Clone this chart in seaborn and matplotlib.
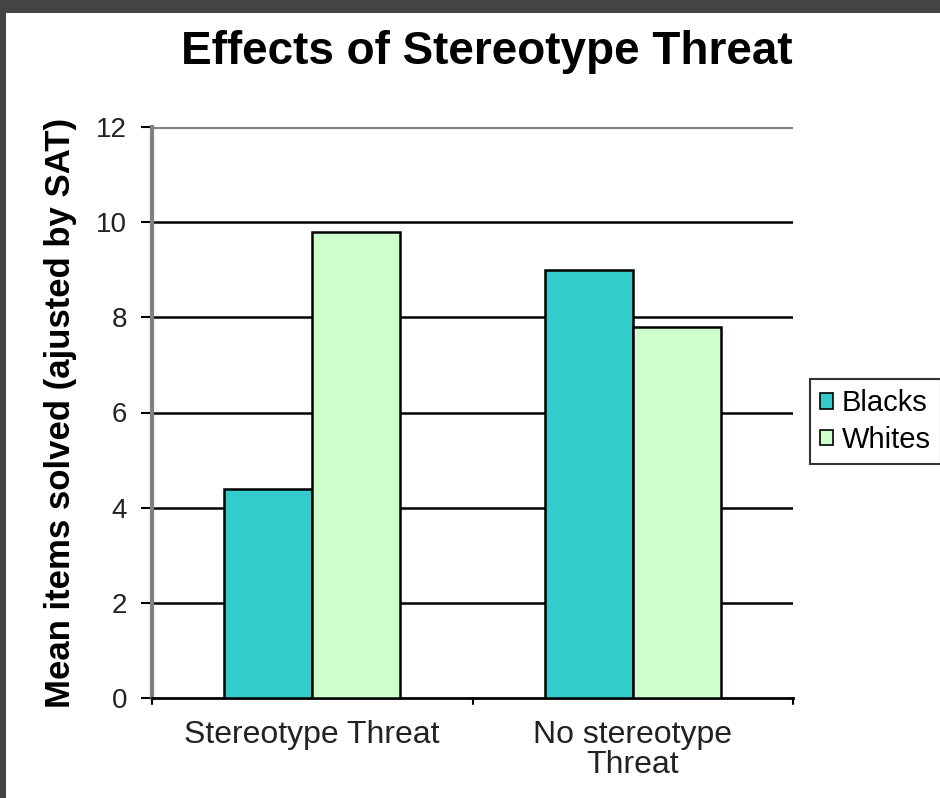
import pandas as pd
import matplotlib
matplotlib.use("Agg")
import matplotlib.pyplot as plt
import seaborn as sns
from matplotlib.patches import Rectangle, Patch

conditions = ["Stereotype Threat", "No stereotype\nThreat"]
groups = ["Blacks", "Whites"]
blacks = [4.4, 9.0]
whites = [9.8, 7.8]
yticks = [0, 2, 4, 6, 8, 10, 12]

df = pd.DataFrame({
    "condition": conditions * 2,
    "group": ["Blacks"] * 2 + ["Whites"] * 2,
    "score": blacks + whites,
})

sns.set_style("white")
plt.rcParams["font.family"] = ["Liberation Sans", "DejaVu Sans"]
plt.rcParams["text.color"] = "black"

colors = {"Blacks": "#33CCCC", "Whites": "#CCFFCC"}

fig = plt.figure(figsize=(9.4, 7.98), dpi=100, facecolor="#444444")
# white canvas inside the dark frame
fig.patches.append(Rectangle((6 / 940, 0), 1, (798 - 13) / 798, transform=fig.transFigure,
                             facecolor="white", edgecolor="none", zorder=-10))
ax = fig.add_axes([152 / 940, 100 / 798, 641 / 940, 571 / 798])
ax.set_facecolor("white")

sns.barplot(data=df, x="condition", y="score", hue="group", order=conditions,
            hue_order=groups, palette=colors, saturation=1, width=0.55, edgecolor="black",
            linewidth=1.8, ax=ax, legend=False, zorder=3)

ax.set_ylim(0, 12)
ax.set_xlim(-0.5, 1.5)
ax.set_yticks(yticks)
ax.set_yticklabels([str(t) for t in yticks], fontsize=20, color="#222222")
for t in yticks[1:-1]:
    ax.axhline(t, color="black", linewidth=1.8, zorder=1)
ax.axhline(12, color="#808080", linewidth=3, zorder=1)

ax.set_xticks([0, 1])
ax.set_xticklabels(conditions, fontsize=23, color="#222222", linespacing=1.0)
ax.tick_params(axis="x", length=0, pad=16)
ax.tick_params(axis="y", length=8, width=1.5, color="black", pad=10, direction="out", left=True)
for xs in [-0.5, 0.5, 1.5]:
    ax.plot([xs, xs], [0, -0.12], color="black", linewidth=1.5, clip_on=False)

for s in ["top", "right"]:
    ax.spines[s].set_visible(False)
ax.spines["left"].set_color("#808080")
ax.spines["left"].set_linewidth(3)
ax.spines["bottom"].set_color("black")
ax.spines["bottom"].set_linewidth(2)

ax.set_xlabel("")
ax.set_ylabel("Mean items solved (ajusted by SAT)", fontsize=25, fontweight="bold",
              color="black", labelpad=14)
fig.text(487 / 940, 1 - 52 / 798, "Effects of Stereotype Threat", ha="center", va="center",
         fontsize=33, fontweight="bold", color="black")

handles = [Patch(facecolor=colors[g], edgecolor="black", linewidth=1.2) for g in groups]
leg = fig.legend(handles, groups, loc="upper left", bbox_to_anchor=(810 / 940, 1 - 379 / 798),
                 fontsize=21, frameon=True, fancybox=False, edgecolor="black",
                 handlelength=0.45, handleheight=0.45, handletextpad=0.3, borderpad=0.35,
                 labelspacing=0.3, borderaxespad=0)
leg.get_frame().set_linewidth(1.5)

fig.savefig("out.png", dpi=100, facecolor=fig.get_facecolor())
